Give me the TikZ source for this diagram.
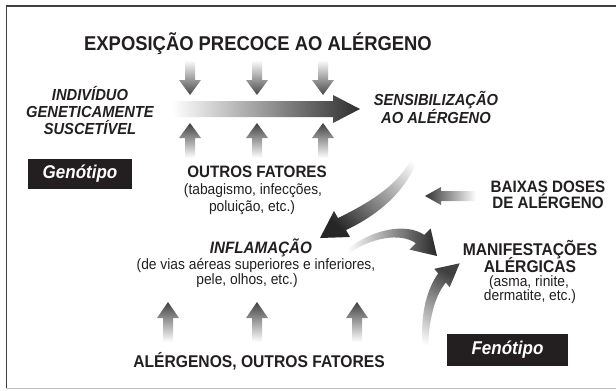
\documentclass[tikz,border=0pt]{standalone}
\usepackage{fontspec}
\usepackage{graphicx}
\setmainfont{Liberation Sans}
\definecolor{ink}{HTML}{231F20}
\newcommand\nw[1]{\scalebox{0.92}[1]{#1}}
\tikzset{
  txt/.style={anchor=base, inner sep=0pt, text=ink},
  head/.style={txt, font=\bfseries\fontsize{16.5}{16.5}\selectfont},
  headit/.style={txt, font=\bfseries\itshape\fontsize{16}{16}\selectfont},
  small/.style={txt, font=\fontsize{15}{15}\selectfont},
  tagbox/.style={fill=ink, text=white, inner sep=0pt, font=\bfseries\itshape\fontsize{18.5}{18.5}\selectfont},
}
\begin{document}
\begin{tikzpicture}[x=1pt,y=-1pt]
\useasboundingbox (0,0) rectangle (616,391);
\fill[white] (0,0) rectangle (616,391);
% frame
\draw[black!75, line width=1.6pt] (6.5,388) -- (6.5,6) -- (616,6);
\draw[black!25, line width=1pt] (6,388.5) -- (616,388.5);

% title
\node[head, font=\bfseries\fontsize{20}{20}\selectfont] (title) at (258,50) {\nw{EXPOSIÇÃO PRECOCE AO ALÉRGENO}};

% down arrows (top)
\foreach \x in {190,257,323}{
  \shade[top color=white, bottom color=black!72]
    (\x-5,60) -- (\x+5,60) -- (\x+5,80) -- (\x+11,80) -- (\x,95) -- (\x-11,80) -- (\x-5,80) -- cycle;
}
% up arrows (below main arrow)
\foreach \x in {190,257,323}{
  \shade[top color=black!75, bottom color=white]
    (\x-5,158) -- (\x+5,158) -- (\x+5,138) -- (\x+11,138) -- (\x,123) -- (\x-11,138) -- (\x-5,138) -- cycle;
}
% main horizontal arrow
\shade[left color=white, right color=black!82]
  (172,101) -- (333,101) -- (333,95) -- (360,109) -- (333,123) -- (333,117) -- (172,117) -- cycle;

% left text
\node[headit] (ind1) at (90,100) {\nw{INDIVÍDUO}};
\node[headit] (ind2) at (90,117) {\nw{GENETICAMENTE}};
\node[headit] (ind3) at (90,134) {\nw{SUSCETÍVEL}};
\node[tagbox, minimum width=104pt, minimum height=30pt] (geno) at (80,174) {\nw{Genótipo}};

% sensibilizacao
\node[headit] (sen1) at (436,105) {\nw{SENSIBILIZAÇÃO}};
\node[headit] (sen2) at (436,123) {\nw{AO ALÉRGENO}};

% outros fatores
\node[head] (of1) at (257,177) {\nw{OUTROS FATORES}};
\node[small] (of2) at (253,194) {\nw{(tabagismo, infecções,}};
\node[small] (of3) at (252,211) {\nw{poluição, etc.)}};

% baixas doses
\node[head] (bd1) at (548,192) {\nw{BAIXAS DOSES}};
\node[head] (bd2) at (548,208) {\nw{DE ALÉRGENO}};
\shade[left color=black!80, right color=white]
  (425,196) -- (441,187) -- (441,191) -- (476,191) -- (476,201) -- (441,201) -- (441,205) -- cycle;

% curved arrow: sensibilizacao -> inflamacao
\shade[top color=white, bottom color=black!85, shading angle=-45]
  (421.5,140) .. controls (418,180) and (385,212) .. (346,230) -- (350,237) -- (320,238) -- (334,211) -- (338,218)
  .. controls (375,200) and (410,178) .. (418.5,140) -- cycle;

% inflamacao
\node[headit, font=\bfseries\itshape\fontsize{16.5}{16.5}\selectfont] (inf1) at (261,253) {\nw{INFLAMAÇÃO}};
\node[small] (inf2) at (256,269) {\nw{(de vias aéreas superiores e inferiores,}};
\node[small] (inf3) at (247,284) {\nw{pele, olhos, etc.)}};

% curved arrow: inflamacao -> manifestacoes
\shade[left color=white, right color=black!85]
  (347,250) .. controls (370,230) and (405,222) .. (424.2,234.8) -- (430.6,228.4) -- (437,256) -- (409.4,249.6) -- (415.8,243.2)
  .. controls (400,232) and (370,238) .. (348,254) -- cycle;

% curved arrow from bottom -> manifestacoes
\shade[top color=black!75, bottom color=white, shading angle=-30]
  (423.5,358) .. controls (419,320) and (425,292) .. (438.2,273.4) -- (434.3,268.8) -- (459.7,263.3) -- (449.7,287.2) -- (445.8,282.6)
  .. controls (433,298) and (428,325) .. (427.5,358) -- cycle;

% manifestacoes
\node[head, font=\bfseries\fontsize{17}{17}\selectfont] (man1) at (530,255) {\nw{MANIFESTAÇÕES}};
\node[head, font=\bfseries\fontsize{17}{17}\selectfont] (man2) at (530,272) {\nw{ALÉRGICAS}};
\node[small] (man3) at (529,286) {\nw{(asma, rinite,}};
\node[small] (man4) at (530,300) {\nw{dermatite, etc.)}};

% bottom up arrows
\foreach \x in {168,257,357}{
  \shade[top color=black!75, bottom color=white]
    (\x-5,342) -- (\x+5,342) -- (\x+5,318) -- (\x+11,318) -- (\x,302) -- (\x-11,318) -- (\x-5,318) -- cycle;
}
\node[head, font=\bfseries\fontsize{17}{17}\selectfont] (alg) at (259,367) {\nw{ALÉRGENOS, OUTROS FATORES}};

\node[tagbox, minimum width=121pt, minimum height=32pt] (feno) at (507.5,350) {\nw{Fenótipo}};
\end{tikzpicture}
\end{document}
